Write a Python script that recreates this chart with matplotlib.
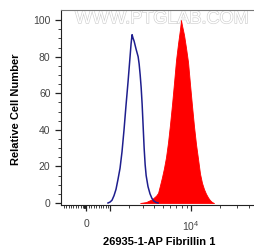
import numpy as np
import matplotlib
matplotlib.use("Agg")
import matplotlib.pyplot as plt
import matplotlib.patheffects as pe

plt.rcParams['font.family'] = ['Liberation Sans', 'DejaVu Sans']
plt.rcParams['mathtext.fontset'] = 'custom'
plt.rcParams['mathtext.rm'] = 'Liberation Sans'
plt.rcParams['mathtext.default'] = 'regular'

# control (isotype) histogram, fluorescence intensity vs relative count
ctrl_x = [904, 995, 1087, 1183, 1282, 1383, 1488, 1594, 1706, 1817, 1939,
          2066, 2130, 2195, 2262, 2330, 2470, 2615, 2690, 2769, 2846, 2922,
          3003, 3086, 3170, 3257, 3420, 3607, 3795, 3998, 4219, 4439]
ctrl_y = [0, 0.5, 1.5, 4, 7.5, 13, 19, 28, 40, 53, 66,
          80, 87, 92, 90, 88.5, 84, 80, 76, 70, 63, 54,
          42, 30, 21, 15, 9, 5, 2.5, 1, 0.3, 0]

# antibody stained histogram
stain_x = [2769, 3257, 3420, 3795, 4219, 4439, 4653, 4897, 5150, 5417, 5693,
           5984, 6290, 6610, 6935, 7281, 7643, 7832, 8029, 8423, 8837, 9290,
           9740, 10232, 10725, 11270, 11830, 12400, 13000, 13660, 14320,
           15030, 15760, 16530, 17340]
stain_y = [0, 0.5, 1, 2, 4, 5.5, 9.5, 14, 19, 25, 33,
           43, 54, 66, 78, 87, 95, 100, 97, 92, 85, 77,
           65, 53, 42, 32, 24, 16, 11, 7.5, 5,
           3, 1.5, 0.5, 0]

# asinh display (logicle-like)
C = 1650.0


def fwd(v):
    return np.arcsinh(np.asarray(v, dtype=float) / C)


def inv(u):
    return C * np.sinh(np.asarray(u, dtype=float))


fig = plt.figure(figsize=(2.54, 2.50), dpi=100)
ax = fig.add_axes([0.240, 0.18, 0.76, 0.78])
ax.set_xscale('function', functions=(fwd, inv))

ax.fill_between(stain_x, stain_y, color='#ff0000', lw=0.6, zorder=3)
ax.plot(ctrl_x, ctrl_y, color='#1e1e8e', lw=1.1, zorder=4)

ax.text(0.52, 0.955, 'WWW.PTGLAB.COM', transform=ax.transAxes,
        ha='center', va='center', fontsize=13, color='white', zorder=1,
        path_effects=[pe.withStroke(linewidth=0.9, foreground='#d0d0d0')])

ax.set_xlim(-1043, 45000)
ax.set_ylim(-1.1, 105.5)

ax.set_yticks([0, 20, 40, 60, 80, 100])
ax.set_yticks(np.arange(0, 101, 5), minor=True)
ax.set_xticks([0, 1000, 10000])
ax.set_xticklabels(['0', '', '$10^4$'])
minor = list(range(-900, 0, 100)) + list(range(-90, 0, 10)) + \
    list(range(100, 1000, 100)) + list(range(2000, 10000, 1000)) + \
    list(range(20000, 50000, 10000))
ax.set_xticks(minor, minor=True)

ax.tick_params(axis='both', which='major', length=4, width=0.9,
               labelsize=7.5, labelcolor='#444444', color='#222222')
ax.tick_params(axis='both', which='minor', length=2, width=0.6,
               color='#222222')
ax.tick_params(axis='x', pad=6)

ax.spines['right'].set_visible(False)
ax.spines['top'].set_color('#777777')
ax.spines['left'].set_color('#222222')
ax.spines['bottom'].set_color('#222222')

ax.set_ylabel('Relative Cell Number', fontsize=8, fontweight='bold')
ax.set_xlabel('26935-1-AP Fibrillin 1', fontsize=8, fontweight='bold')
ax.yaxis.set_label_coords(-0.205, 0.49)
ax.xaxis.set_label_coords(0.51, -0.165)

fig.savefig('out.png', dpi=100)
